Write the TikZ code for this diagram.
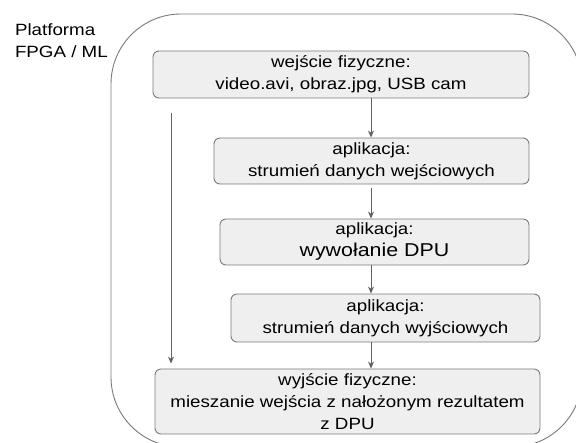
\documentclass[tikz,border=0pt]{standalone}
\usepackage{fontspec}
\setmainfont{Liberation Sans}[FakeStretch=1.15]
\usetikzlibrary{arrows.meta}
\definecolor{boxgray}{HTML}{EFEFEF}
\definecolor{linegray}{HTML}{7A7A7A}
\tikzset{stagebox/.style={rectangle, rounded corners=6pt, draw=linegray, fill=boxgray, line width=0.9pt, align=center, inner sep=0pt}}
\tikzset{flow/.style={-{Stealth[length=7pt,width=6pt]}, draw=linegray!80!black, line width=0.8pt}}

\begin{document}
\begin{tikzpicture}[x=1pt, y=-1pt, font=\fontsize{16.3}{22}\selectfont]
    \useasboundingbox (0,0) rectangle (576,443);
    \clip (0,0) rectangle (576,443);
    \draw[linegray, line width=0.9pt, rounded corners=70pt] (111,14) rectangle (582,447);

    \node [anchor=base west, align=left](platform) at (11.5,57.5){Platforma\\FPGA / ML};

    \node [stagebox, minimum width=376, minimum height=47](input) at (341,74.5){wejście fizyczne:\\video.avi, obraz.jpg, USB cam};
    \node [stagebox, minimum width=315, minimum height=46](streamin) at (371.5,161){aplikacja:\\strumień danych wejściowych};
    \node [stagebox, minimum width=309, minimum height=46](dpu) at (374.5,242){aplikacja:\\{\fontsize{18.6}{22}\selectfont wywołanie DPU}};
    \node [stagebox, minimum width=309, minimum height=48](streamout) at (385.5,318){aplikacja:\\strumień danych wyjściowych};
    \node [stagebox, minimum width=385, minimum height=65](output) at (347.5,401.5){wyjście fizyczne:\\mieszanie wejścia z nałożonym rezultatem\\z DPU};

    \coordinate (axis) at (371,0);
    \coordinate (bypass) at (171,113);

    \draw[flow] (input.south -| axis) -- (streamin.north -| axis);
    \draw[flow, shorten <=4pt] (streamin.south -| axis) -- (dpu.north -| axis);
    \draw[flow] (dpu.south -| axis) -- (streamout.north -| axis);
    \draw[flow] (streamout.south -| axis) -- (output.north -| axis);
    \draw[flow, shorten >=5pt] (bypass) -- (output.north -| bypass);
\end{tikzpicture}
\end{document}
